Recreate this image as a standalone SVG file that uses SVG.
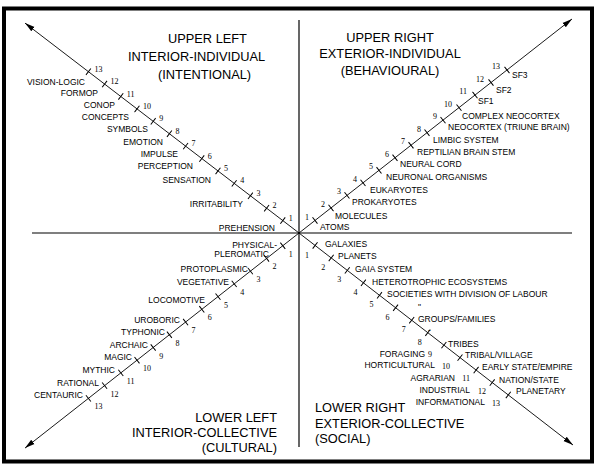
<svg xmlns="http://www.w3.org/2000/svg" width="600" height="470" viewBox="0 0 600 470">
<style>
.lbl{font-family:"Liberation Sans",Arial,sans-serif;font-size:8.5px;fill:#000}
.e{text-anchor:end}
.num{font-family:"Liberation Serif","Times New Roman",serif;font-size:8px;fill:#000}
.hd{font-family:"Liberation Sans",Arial,sans-serif;font-size:12.8px;fill:#000}
.ax{stroke:#000;stroke-width:1.2;fill:none}
.dg{stroke:#000;stroke-width:0.9;fill:none;marker-mid:url(#tick);marker-end:url(#arr)}
</style>
<defs>
<marker id="tick" markerWidth="2" markerHeight="10" refX="1" refY="5" orient="auto" markerUnits="userSpaceOnUse">
<line x1="1" y1="1" x2="1" y2="9" stroke="#000" stroke-width="1"/>
</marker>
<marker id="arr" markerWidth="10" markerHeight="7" refX="10" refY="3.5" orient="auto" markerUnits="userSpaceOnUse">
<path d="M0,0.8 L10,3.5 L0,6.2 z" fill="#000"/>
</marker>
</defs>
<rect x="0" y="0" width="600" height="470" fill="#fff"/>
<rect id="frame" x="4" y="8.5" width="588" height="453" fill="none" stroke="#000" stroke-width="4"/>

<g id="connectors">
<line class="ax" x1="32" y1="233" x2="572" y2="233"/>
<line class="ax" x1="299" y1="20" x2="299" y2="447"/>
<polyline id="axis-ul" class="dg" points="299,233 282.8,220.59 266.6,208.18 250.4,195.77 234.2,183.36 218,170.95 201.8,158.54 185.6,146.13 169.4,133.72 153.2,121.31 137,108.9 120.8,96.49 104.6,84.08 88.4,71.67 25,23.1"/>
<polyline id="axis-ur" class="dg" points="299,233 315,220.46 331,207.92 347,195.38 363,182.84 379,170.3 395,157.76 411,145.22 427,132.68 443,120.14 459,107.6 475,95.06 491,82.52 507,69.98 572,19"/>
<polyline id="axis-lr" class="dg" points="299,233 315.1,245.46 331.2,257.92 347.3,270.38 363.4,282.84 379.5,295.3 395.6,307.76 411.7,320.22 427.8,332.68 443.9,345.14 460,357.6 476.1,370.06 492.2,382.52 508.3,394.98 573,445"/>
<polyline id="axis-ll" class="dg" points="299,233 282.8,245.72 266.6,258.44 250.4,271.16 234.2,283.88 218,296.6 201.8,309.32 185.6,322.04 169.4,334.76 153.2,347.48 137,360.2 120.8,372.92 104.6,385.64 88.4,398.36 25,448.1"/>
</g>

<g id="upper-left">
<g id="ul-heading">
<text class="hd" x="168" y="43">UPPER LEFT</text>
<text class="hd" x="128" y="61">INTERIOR-INDIVIDUAL</text>
<text class="hd" x="158" y="79">(INTENTIONAL)</text>
</g>
<g id="ul-labels" class="lbl e">
<text class="lbl e" x="275" y="231">PREHENSION</text>
<text class="lbl e" x="243" y="207">IRRITABILITY</text>
<text class="lbl e" x="211" y="183">SENSATION</text>
<text class="lbl e" x="193" y="169">PERCEPTION</text>
<text class="lbl e" x="178" y="157">IMPULSE</text>
<text class="lbl e" x="163" y="145">EMOTION</text>
<text class="lbl e" x="148" y="132">SYMBOLS</text>
<text class="lbl e" x="129" y="120">CONCEPTS</text>
<text class="lbl e" x="115" y="108">CONOP</text>
<text class="lbl e" x="98" y="96">FORMOP</text>
<text class="lbl e" x="85" y="85">VISION-LOGIC</text>
</g>
<g id="ul-numbers">
<text class="num" x="288.8" y="220.6">1</text>
<text class="num" x="272.6" y="208.2">2</text>
<text class="num" x="256.4" y="195.8">3</text>
<text class="num" x="240.2" y="183.4">4</text>
<text class="num" x="224" y="171">5</text>
<text class="num" x="207.8" y="158.5">6</text>
<text class="num" x="191.6" y="146.1">7</text>
<text class="num" x="175.4" y="133.7">8</text>
<text class="num" x="159.2" y="121.3">9</text>
<text class="num" x="143" y="108.9">10</text>
<text class="num" x="126.8" y="96.5">11</text>
<text class="num" x="110.6" y="84.1">12</text>
<text class="num" x="94.4" y="71.7">13</text>
</g>
</g>

<g id="upper-right">
<g id="ur-heading">
<text class="hd" x="390" y="41.5" text-anchor="middle">UPPER RIGHT</text>
<text class="hd" x="390" y="58" text-anchor="middle">EXTERIOR-INDIVIDUAL</text>
<text class="hd" x="390" y="75" text-anchor="middle">(BEHAVIOURAL)</text>
</g>
<g id="ur-labels">
<text class="lbl" x="320" y="230">ATOMS</text>
<text class="lbl" x="335" y="219">MOLECULES</text>
<text class="lbl" x="352" y="205">PROKARYOTES</text>
<text class="lbl" x="370" y="193">EUKARYOTES</text>
<text class="lbl" x="386" y="180">NEURONAL ORGANISMS</text>
<text class="lbl" x="400" y="167">NEURAL CORD</text>
<text class="lbl" x="417" y="155">REPTILIAN BRAIN STEM</text>
<text class="lbl" x="433" y="143">LIMBIC SYSTEM</text>
<text class="lbl" x="448" y="130">NEOCORTEX (TRIUNE BRAIN)</text>
<text class="lbl" x="462" y="119">COMPLEX NEOCORTEX</text>
<text class="lbl" x="478" y="104">SF1</text>
<text class="lbl" x="496" y="93">SF2</text>
<text class="lbl" x="512" y="78">SF3</text>
</g>
<g id="ur-numbers">
<text class="num e" x="309" y="219.5">1</text>
<text class="num e" x="325" y="206.9">2</text>
<text class="num e" x="341" y="194.4">3</text>
<text class="num e" x="357" y="181.8">4</text>
<text class="num e" x="373" y="169.3">5</text>
<text class="num e" x="389" y="156.8">6</text>
<text class="num e" x="405" y="144.2">7</text>
<text class="num e" x="421" y="131.7">8</text>
<text class="num e" x="437" y="119.1">9</text>
<text class="num e" x="452" y="106.6">10</text>
<text class="num e" x="467" y="94">11</text>
<text class="num e" x="484" y="81.5">12</text>
<text class="num e" x="500" y="69">13</text>
</g>
</g>

<g id="lower-left">
<g id="ll-heading">
<text class="hd e" x="277" y="422">LOWER LEFT</text>
<text class="hd e" x="277" y="437">INTERIOR-COLLECTIVE</text>
<text class="hd e" x="277" y="452">(CULTURAL)</text>
</g>
<g id="ll-labels">
<text class="lbl e" x="277" y="248">PHYSICAL-</text>
<text class="lbl e" x="269" y="257">PLEROMATIC</text>
<text class="lbl e" x="248" y="272">PROTOPLASMIC</text>
<text class="lbl e" x="229" y="285">VEGETATIVE</text>
<text class="lbl e" x="205" y="303">LOCOMOTIVE</text>
<text class="lbl e" x="180" y="323">UROBORIC</text>
<text class="lbl e" x="165" y="335">TYPHONIC</text>
<text class="lbl e" x="148" y="348">ARCHAIC</text>
<text class="lbl e" x="132" y="360">MAGIC</text>
<text class="lbl e" x="115" y="373">MYTHIC</text>
<text class="lbl e" x="99" y="386">RATIONAL</text>
<text class="lbl e" x="83" y="398">CENTAURIC</text>
</g>
<g id="ll-numbers">
<text class="num" x="288.8" y="256.7">1</text>
<text class="num" x="272.6" y="269.4">2</text>
<text class="num" x="256.4" y="282.2">3</text>
<text class="num" x="240.2" y="294.9">4</text>
<text class="num" x="224" y="307.6">5</text>
<text class="num" x="207.8" y="320.3">6</text>
<text class="num" x="191.6" y="333">7</text>
<text class="num" x="175.4" y="345.8">8</text>
<text class="num" x="159.2" y="358.5">9</text>
<text class="num" x="143" y="371.2">10</text>
<text class="num" x="126.8" y="383.9">11</text>
<text class="num" x="110.6" y="396.6">12</text>
<text class="num" x="94.4" y="409.4">13</text>
</g>
</g>

<g id="lower-right">
<g id="lr-heading">
<text class="hd" x="315" y="412">LOWER RIGHT</text>
<text class="hd" x="315" y="427.5">EXTERIOR-COLLECTIVE</text>
<text class="hd" x="315" y="443">(SOCIAL)</text>
</g>
<g id="lr-labels">
<text class="lbl" x="325" y="247">GALAXIES</text>
<text class="lbl" x="338" y="259">PLANETS</text>
<text class="lbl" x="355" y="272">GAIA SYSTEM</text>
<text class="lbl" x="372" y="285">HETEROTROPHIC ECOSYSTEMS</text>
<text class="lbl" x="387" y="297">SOCIETIES WITH DIVISION OF LABOUR</text>
<text class="lbl" x="418" y="310">"</text>
<text class="lbl" x="418" y="322">GROUPS/FAMILIES</text>
<text class="lbl" x="428" y="333">-</text>
<text class="lbl" x="448" y="347">TRIBES</text>
<text class="lbl" x="465" y="358">TRIBAL/VILLAGE</text>
<text class="lbl" x="482" y="370">EARLY STATE/EMPIRE</text>
<text class="lbl" x="499" y="383">NATION/STATE</text>
<text class="lbl" x="516" y="394">PLANETARY</text>
<text class="lbl e" x="425" y="357">FORAGING</text>
<text class="lbl e" x="435" y="368">HORTICULTURAL</text>
<text class="lbl e" x="455" y="381">AGRARIAN</text>
<text class="lbl e" x="470" y="393">INDUSTRIAL</text>
<text class="lbl e" x="485" y="405">INFORMATIONAL</text>
</g>
<g id="lr-numbers">
<text class="num e" x="309.1" y="257.5">1</text>
<text class="num e" x="325.2" y="269.9">2</text>
<text class="num e" x="341.3" y="282.4">3</text>
<text class="num e" x="357.4" y="294.8">4</text>
<text class="num e" x="373.5" y="307.3">5</text>
<text class="num e" x="389.6" y="319.8">6</text>
<text class="num e" x="405.7" y="332.2">7</text>
<text class="num e" x="421.8" y="344.7">8</text>
<text class="num e" x="432" y="357">9</text>
<text class="num e" x="450" y="368.5">10</text>
<text class="num e" x="470" y="381">11</text>
<text class="num e" x="486" y="393.5">12</text>
<text class="num e" x="500" y="405.5">13</text>
</g>
</g>
</svg>
